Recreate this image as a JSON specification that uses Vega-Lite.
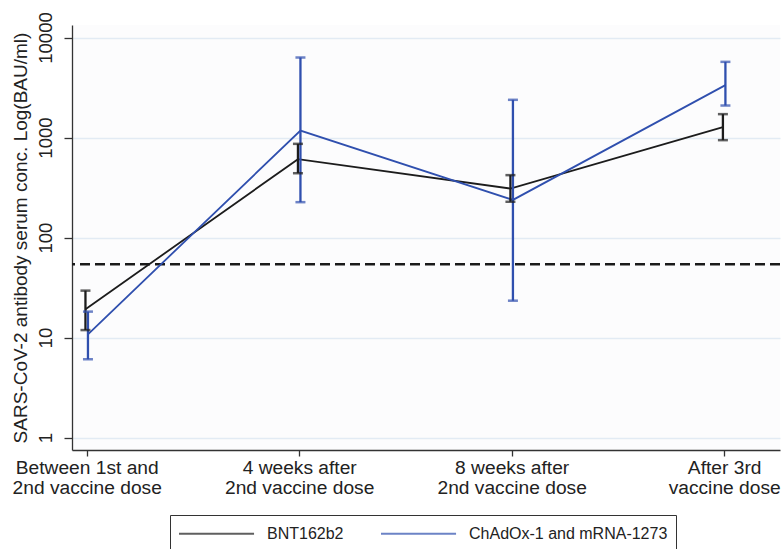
{
  "$schema": "https://vega.github.io/schema/vega-lite/v6.json",
  "width": 708,
  "height": 425,
  "autosize": "none",
  "padding": {"left": 72, "top": 25, "right": 2, "bottom": 99},
  "background": "white",
  "config": {
    "view": {"stroke": null, "fill": "#fcfcfd"},
    "font": "Liberation Sans"
  },
  "datasets": {
    "gmt": [
      {"timepoint": "Between 1st and 2nd vaccine dose", "vaccine": "BNT162b2", "gmt": 19.2, "lo": 11.9, "hi": 29.5},
      {"timepoint": "4 weeks after 2nd vaccine dose", "vaccine": "BNT162b2", "gmt": 608, "lo": 440, "hi": 865},
      {"timepoint": "8 weeks after 2nd vaccine dose", "vaccine": "BNT162b2", "gmt": 309, "lo": 228, "hi": 421},
      {"timepoint": "After 3rd vaccine dose", "vaccine": "BNT162b2", "gmt": 1270, "lo": 942, "hi": 1714},
      {"timepoint": "Between 1st and 2nd vaccine dose", "vaccine": "ChAdOx-1 and mRNA-1273", "gmt": 10.8, "lo": 6.08, "hi": 18.2},
      {"timepoint": "4 weeks after 2nd vaccine dose", "vaccine": "ChAdOx-1 and mRNA-1273", "gmt": 1175, "lo": 226, "hi": 6310},
      {"timepoint": "8 weeks after 2nd vaccine dose", "vaccine": "ChAdOx-1 and mRNA-1273", "gmt": 238, "lo": 23.4, "hi": 2383},
      {"timepoint": "After 3rd vaccine dose", "vaccine": "ChAdOx-1 and mRNA-1273", "gmt": 3342, "lo": 2090, "hi": 5710}
    ],
    "threshold": [{"value": 54}]
  },
  "data": {"name": "gmt"},
  "encoding": {
    "x": {
      "field": "timepoint",
      "type": "nominal",
      "sort": ["Between 1st and 2nd vaccine dose", "4 weeks after 2nd vaccine dose", "8 weeks after 2nd vaccine dose", "After 3rd vaccine dose"],
      "scale": {"type": "point", "padding": 0.166, "align": 0.2085},
      "axis": {
        "title": null,
        "labelAngle": 0,
        "labelExpr": "datum.label == 'Between 1st and 2nd vaccine dose' ? ['Between 1st and', '2nd vaccine dose'] : datum.label == '4 weeks after 2nd vaccine dose' ? ['4 weeks after', '2nd vaccine dose'] : datum.label == '8 weeks after 2nd vaccine dose' ? ['8 weeks after', '2nd vaccine dose'] : ['After 3rd', 'vaccine dose']",
        "labelFontSize": 19.2,
        "labelLineHeight": 20,
        "labelColor": "#222222",
        "labelPadding": 2,
        "labelOverlap": false,
        "labelBound": false,
        "labelFlush": false,
        "domainColor": "#333333",
        "domainWidth": 1.3,
        "tickColor": "#333333",
        "tickSize": 6,
        "tickWidth": 1.3,
        "grid": false
      }
    },
    "xOffset": {
      "field": "vaccine",
      "type": "nominal",
      "scale": {"domain": ["BNT162b2", "ChAdOx-1 and mRNA-1273"], "range": [-2.5, 2.5]}
    },
    "color": {
      "field": "vaccine",
      "type": "nominal",
      "scale": {"domain": ["BNT162b2", "ChAdOx-1 and mRNA-1273"], "range": ["#1c1c1c", "#2f4fae"]},
      "legend": {
        "title": null,
        "orient": "none",
        "legendX": 98,
        "legendY": 490,
        "direction": "horizontal",
        "strokeColor": "#333333",
        "fillColor": "white",
        "padding": 8,
        "symbolType": "M-1,0H6.9",
        "symbolSize": 361,
        "symbolStrokeWidth": 1.8,
        "labelFontSize": 16,
        "labelLimit": 400,
        "labelColor": "#222222",
        "labelOffset": 68,
        "columnPadding": 33
      }
    }
  },
  "layer": [
    {
      "data": {"name": "threshold"},
      "mark": {"type": "rule", "strokeDash": [10, 5], "strokeWidth": 2.5, "color": "#1a1a1a"},
      "encoding": {
        "x": null,
        "xOffset": null,
        "color": null,
        "y": {
          "field": "value",
          "type": "quantitative",
          "scale": {"type": "log", "domain": [0.753, 13335], "nice": false, "zero": false},
          "title": "SARS-CoV-2 antibody serum conc. Log(BAU/ml)",
          "axis": {
            "values": [1, 10, 100, 1000, 10000],
            "format": "d",
            "labelAngle": -90,
            "labelAlign": "center",
            "labelBaseline": "bottom",
            "labelFontSize": 18.5,
            "labelColor": "#222222",
            "labelPadding": 9,
            "tickSize": 8,
            "tickWidth": 1.3,
            "tickColor": "#333333",
            "domainColor": "#333333",
            "domainWidth": 1.3,
            "gridColor": "#e2ebf4",
            "gridWidth": 1.5,
            "titleFontSize": 19,
            "titleFontWeight": "normal",
            "titleColor": "#222222",
            "titlePadding": 6
          }
        }
      }
    },
    {
      "mark": {"type": "line", "strokeWidth": 1.8},
      "encoding": {
        "y": {"field": "gmt", "type": "quantitative", "title": "SARS-CoV-2 antibody serum conc. Log(BAU/ml)"}
      }
    },
    {
      "mark": {"type": "rule", "strokeWidth": 2.3},
      "encoding": {
        "y": {"field": "lo", "type": "quantitative", "title": "SARS-CoV-2 antibody serum conc. Log(BAU/ml)"},
        "y2": {"field": "hi"}
      }
    },
    {
      "mark": {"type": "tick", "orient": "horizontal", "size": 10, "thickness": 2.5},
      "encoding": {
        "y": {"field": "lo", "type": "quantitative", "title": "SARS-CoV-2 antibody serum conc. Log(BAU/ml)"}
      }
    },
    {
      "mark": {"type": "tick", "orient": "horizontal", "size": 10, "thickness": 2.5},
      "encoding": {
        "y": {"field": "hi", "type": "quantitative", "title": "SARS-CoV-2 antibody serum conc. Log(BAU/ml)"}
      }
    }
  ]
}
